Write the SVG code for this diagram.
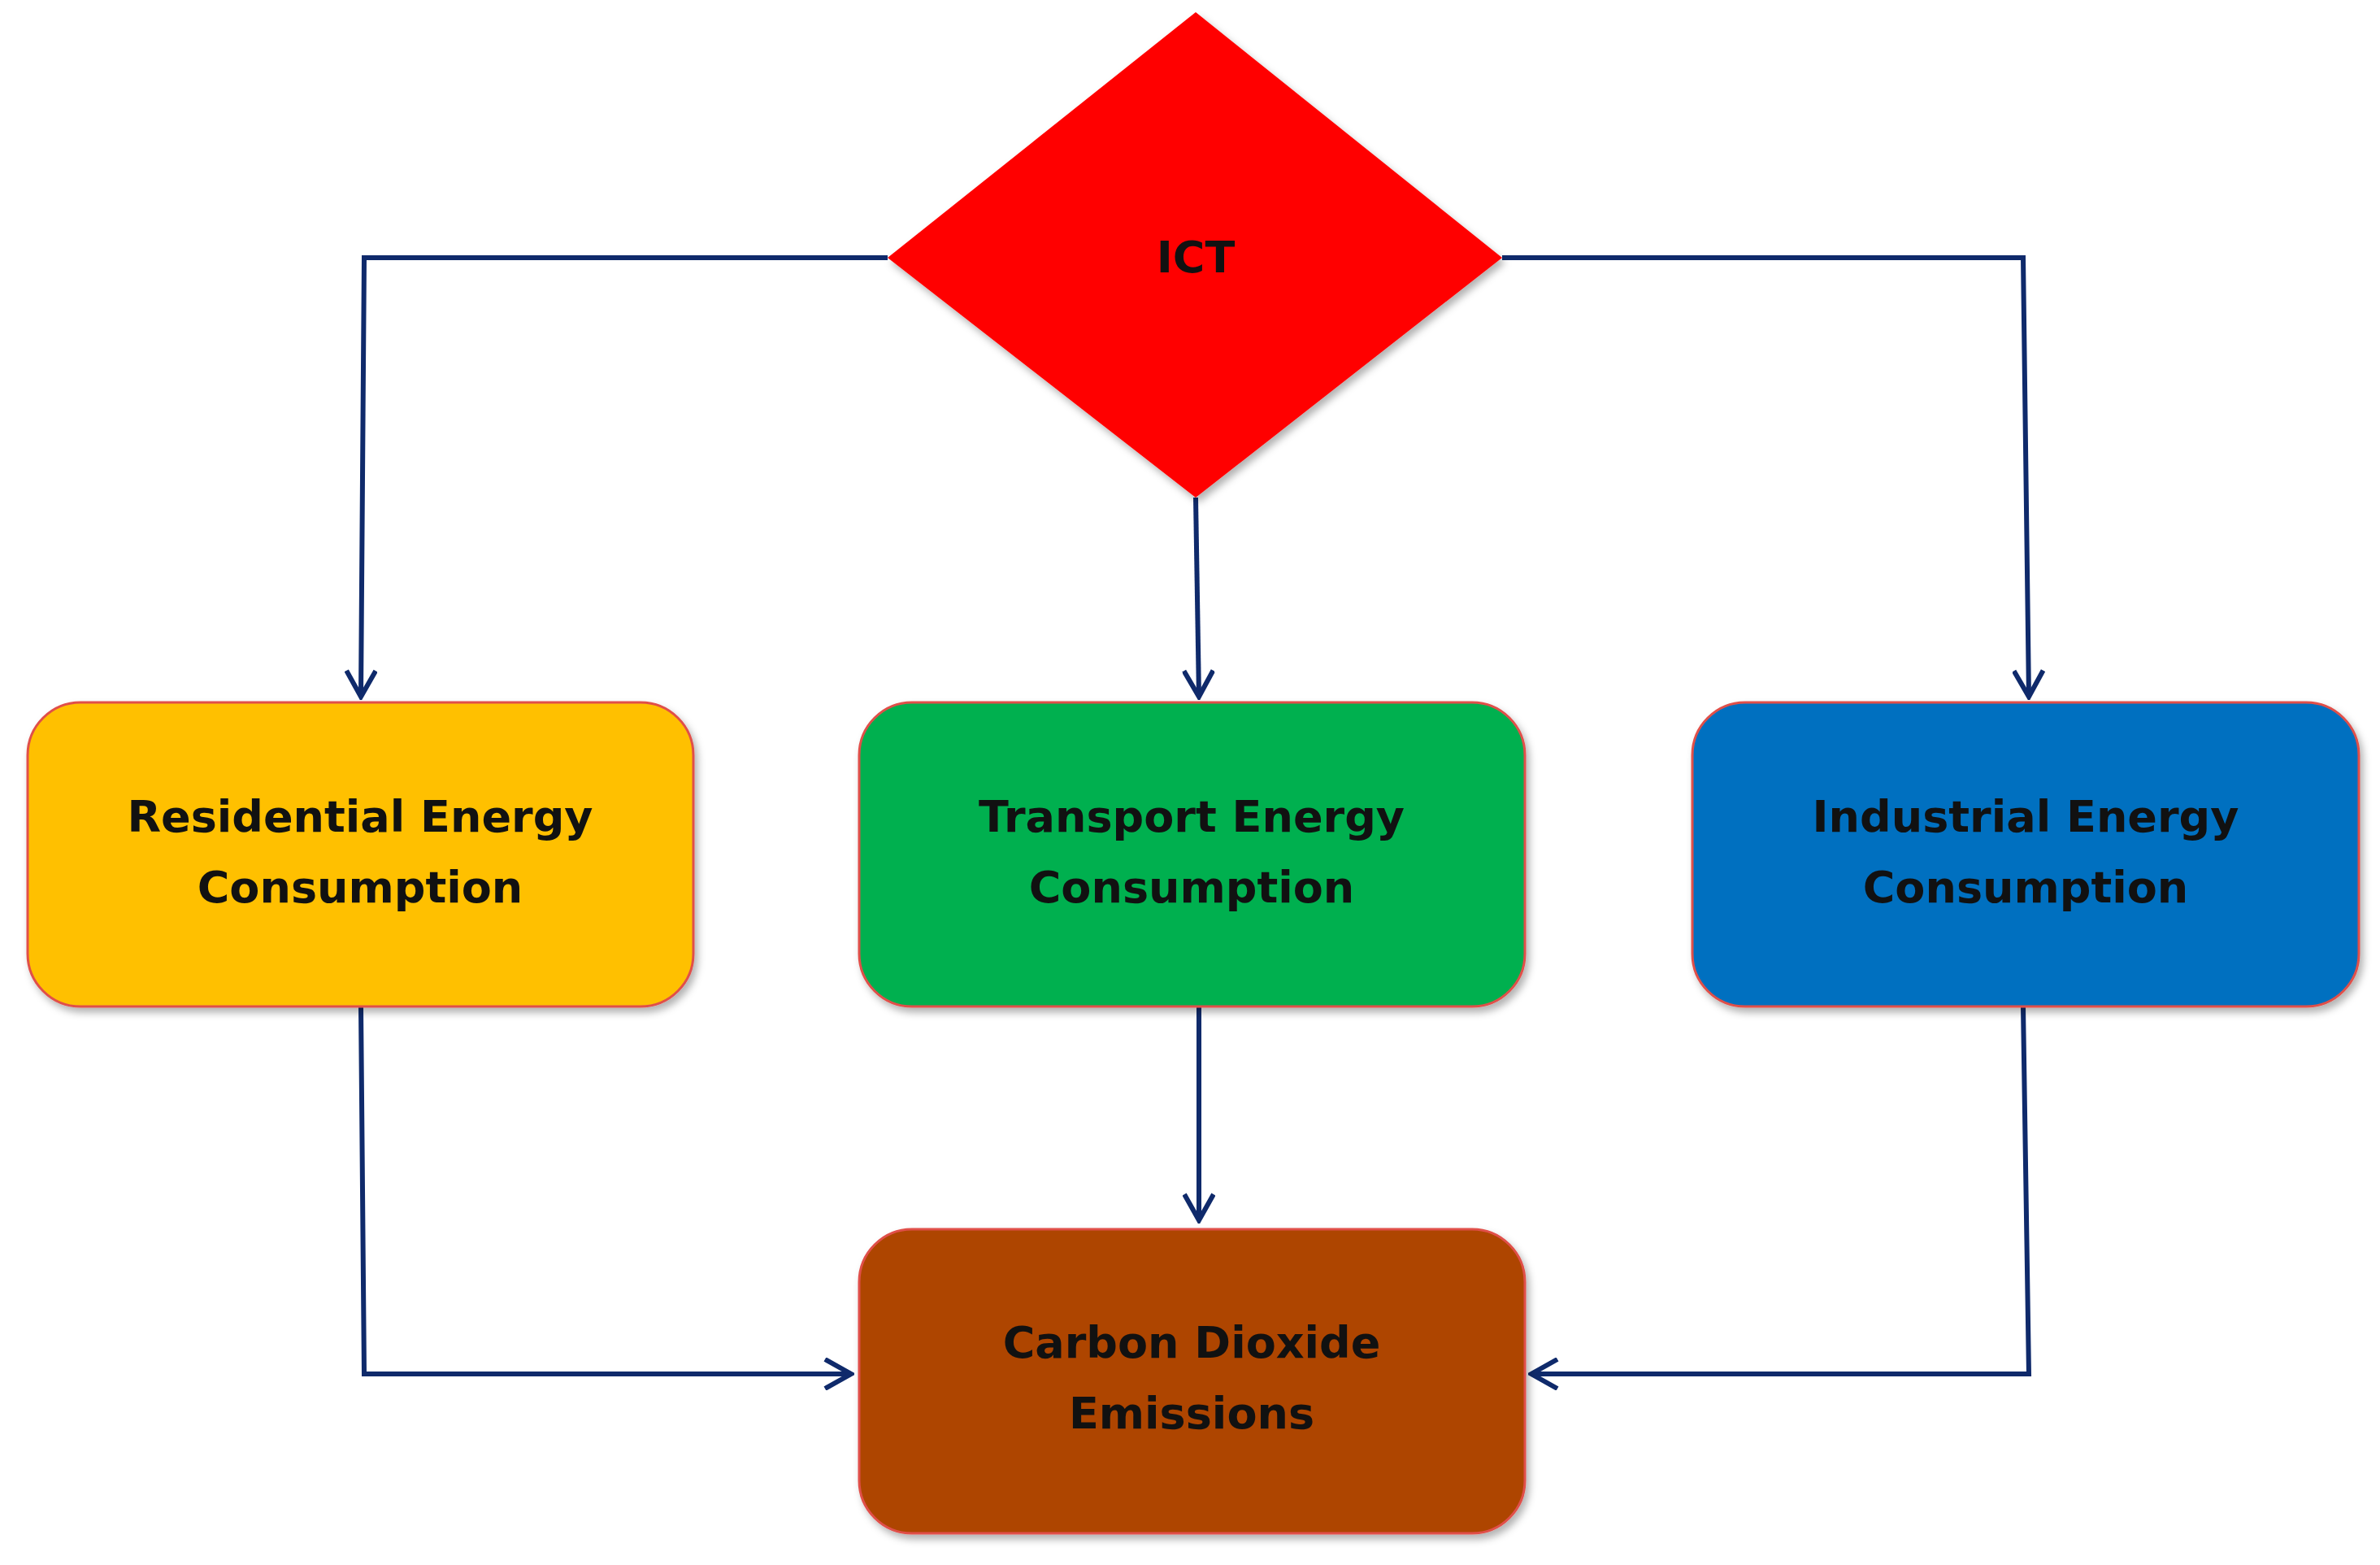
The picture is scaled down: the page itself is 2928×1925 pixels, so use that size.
<svg xmlns="http://www.w3.org/2000/svg" width="2928" height="1925" viewBox="0 0 2928 1925">
<defs>
<marker id="ah" viewBox="0 0 20 20" refX="18" refY="10" markerWidth="20" markerHeight="20" markerUnits="userSpaceOnUse" orient="auto"><path d="M2,1 L18,10 L2,19" fill="none" stroke="#0F2A6B" stroke-width="4"/></marker>
<marker id="ah2" viewBox="0 0 40 40" refX="36" refY="20" markerWidth="40" markerHeight="40" markerUnits="userSpaceOnUse" orient="auto"><path d="M4,2 L36,20 L4,38" fill="none" stroke="#0F2A6B" stroke-width="6"/></marker>
<filter id="sh" x="-10%" y="-10%" width="130%" height="130%"><feDropShadow dx="4" dy="6" stdDeviation="5" flood-color="#000" flood-opacity="0.3"/></filter>
</defs>
<style>
.box{stroke:#E0504A;stroke-width:3;filter:url(#sh)}
.t{font-family:"DejaVu Sans",Verdana,sans-serif;font-weight:bold;font-size:54px;fill:#111;text-anchor:middle}
.c{fill:none;stroke:#0F2A6B;stroke-width:6}
</style>
<rect width="2928" height="1925" fill="#fff"/>
<g id="connectors">
<path class="c" d="M1092,317 H448 L444,857" marker-end="url(#ah2)"/>
<path class="c" d="M1471,612 L1475,857" marker-end="url(#ah2)"/>
<path class="c" d="M1848,317 H2489 L2496,857" marker-end="url(#ah2)"/>
<path class="c" d="M444,1238 L448,1690 H1047" marker-end="url(#ah2)"/>
<path class="c" d="M1475,1238 V1501" marker-end="url(#ah2)"/>
<path class="c" d="M2489,1238 L2496,1690 H1884" marker-end="url(#ah2)"/>
</g>
<g id="ict">
<polygon points="1471,15 1848,317 1471,612 1092,317" fill="#FF0000" filter="url(#sh)"/>
<text class="t" x="1471" y="335">ICT</text>
</g>
<g id="residential">
<rect class="box" x="34" y="864" width="819" height="374" rx="65" fill="#FFC000"/>
<text class="t" x="443" y="1023">Residential Energy</text>
<text class="t" x="443" y="1110">Consumption</text>
</g>
<g id="transport">
<rect class="box" x="1057" y="864" width="819" height="374" rx="65" fill="#00B050"/>
<text class="t" x="1466" y="1023">Transport Energy</text>
<text class="t" x="1466" y="1110">Consumption</text>
</g>
<g id="industrial">
<rect class="box" x="2082" y="864" width="820" height="374" rx="65" fill="#0070C0"/>
<text class="t" x="2492" y="1023">Industrial Energy</text>
<text class="t" x="2492" y="1110">Consumption</text>
</g>
<g id="carbon">
<rect class="box" x="1057" y="1512" width="819" height="374" rx="65" fill="#AE4400"/>
<text class="t" x="1466" y="1670">Carbon Dioxide</text>
<text class="t" x="1466" y="1757">Emissions</text>
</g>
</svg>
